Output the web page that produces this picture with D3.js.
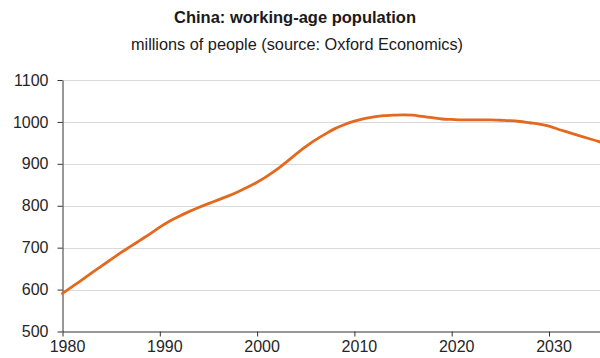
<!DOCTYPE html>
<html>
<head>
<meta charset="utf-8">
<script src="https://cdn.jsdelivr.net/npm/d3@7"></script>
<style>
  html, body { margin: 0; padding: 0; background: #fff; }
  svg { display: block; font-family: "Liberation Sans", Arial, sans-serif; }
</style>
</head>
<body>
<svg id="chart" width="600" height="358"></svg>
<script>
// China working-age population, millions (Oxford Economics)
const years = d3.range(1980, 2037);
const population = [
  591, 607, 623, 640, 656, 672, 688, 703, 718, 733,   // 1980-1989
  749, 763, 775, 786, 796, 805, 814, 823, 833, 844,   // 1990-1999
  856, 870, 886, 904, 923, 941, 957, 971, 984, 994,   // 2000-2009
  1002, 1008, 1012, 1015, 1016, 1017, 1016, 1013, 1010, 1007, // 2010-2019
  1006, 1005, 1005, 1005, 1005, 1004, 1003, 1001, 998, 995,   // 2020-2029
  990, 982, 975, 968, 961, 954, 946                           // 2030-2036
];
const yTicks = [500, 600, 700, 800, 900, 1000, 1100];
const xTicks = [1980, 1990, 2000, 2010, 2020, 2030];
const titleText = "China: working-age population";
const subtitleText = "millions of people (source: Oxford Economics)";

const svg = d3.select("#chart");
const W = 600, H = 358;
const plotLeft = 62.5, plotTop = 80, plotBottom = 331.5;
const yearPx = 9.73;

const x = d3.scaleLinear().domain([1980, 2036]).range([plotLeft, plotLeft + 56 * yearPx]);
const y = d3.scaleLinear().domain([500, 1100]).range([plotBottom, plotTop]);

// Titles
svg.append("text")
  .attr("x", 295).attr("y", 23)
  .attr("text-anchor", "middle")
  .attr("font-size", 16.5).attr("font-weight", "bold").attr("fill", "#1a1a1a")
  .text(titleText);
svg.append("text")
  .attr("x", 297).attr("y", 50)
  .attr("text-anchor", "middle")
  .attr("font-size", 16.3).attr("fill", "#1a1a1a")
  .text(subtitleText);

// Horizontal gridlines
svg.append("g")
  .selectAll("line")
  .data(yTicks.filter(d => d > 500))
  .join("line")
  .attr("x1", plotLeft).attr("x2", W)
  .attr("y1", d => Math.round(y(d)) + 0.5).attr("y2", d => Math.round(y(d)) + 0.5)
  .attr("stroke", "#d9d9d9").attr("stroke-width", 1);

// Y axis
const yAxis = svg.append("g")
  .attr("transform", `translate(${plotLeft},0)`)
  .call(d3.axisLeft(y).tickValues(yTicks).tickSize(5).tickSizeOuter(0).tickPadding(9).tickFormat(d3.format("d")));
yAxis.select(".domain").attr("stroke", "#333");
yAxis.selectAll(".tick line").attr("stroke", "#333");
yAxis.selectAll(".tick text")
  .attr("font-size", 16).attr("fill", "#262626")
  .attr("font-family", "Liberation Sans, Arial, sans-serif");

// X axis
const xAxis = svg.append("g")
  .attr("transform", `translate(0,${plotBottom})`)
  .call(d3.axisBottom(x).tickValues(xTicks).tickSize(5).tickSizeOuter(0).tickPadding(4).tickFormat(d3.format("d")));
xAxis.select(".domain").attr("stroke", "#333");
xAxis.selectAll(".tick line").attr("stroke", "#333");
xAxis.selectAll(".tick text")
  .attr("dx", 4.5)
  .attr("font-size", 16).attr("fill", "#262626")
  .attr("font-family", "Liberation Sans, Arial, sans-serif");

// Population line
const line = d3.line()
  .x((d, i) => x(years[i]))
  .y(d => y(d))
  .curve(d3.curveMonotoneX);

svg.append("path")
  .datum(population)
  .attr("d", line)
  .attr("fill", "none")
  .attr("stroke", "#e2691f")
  .attr("stroke-width", 2.8)
  .attr("stroke-linejoin", "round")
  .attr("stroke-linecap", "round");
</script>
</body>
</html>
